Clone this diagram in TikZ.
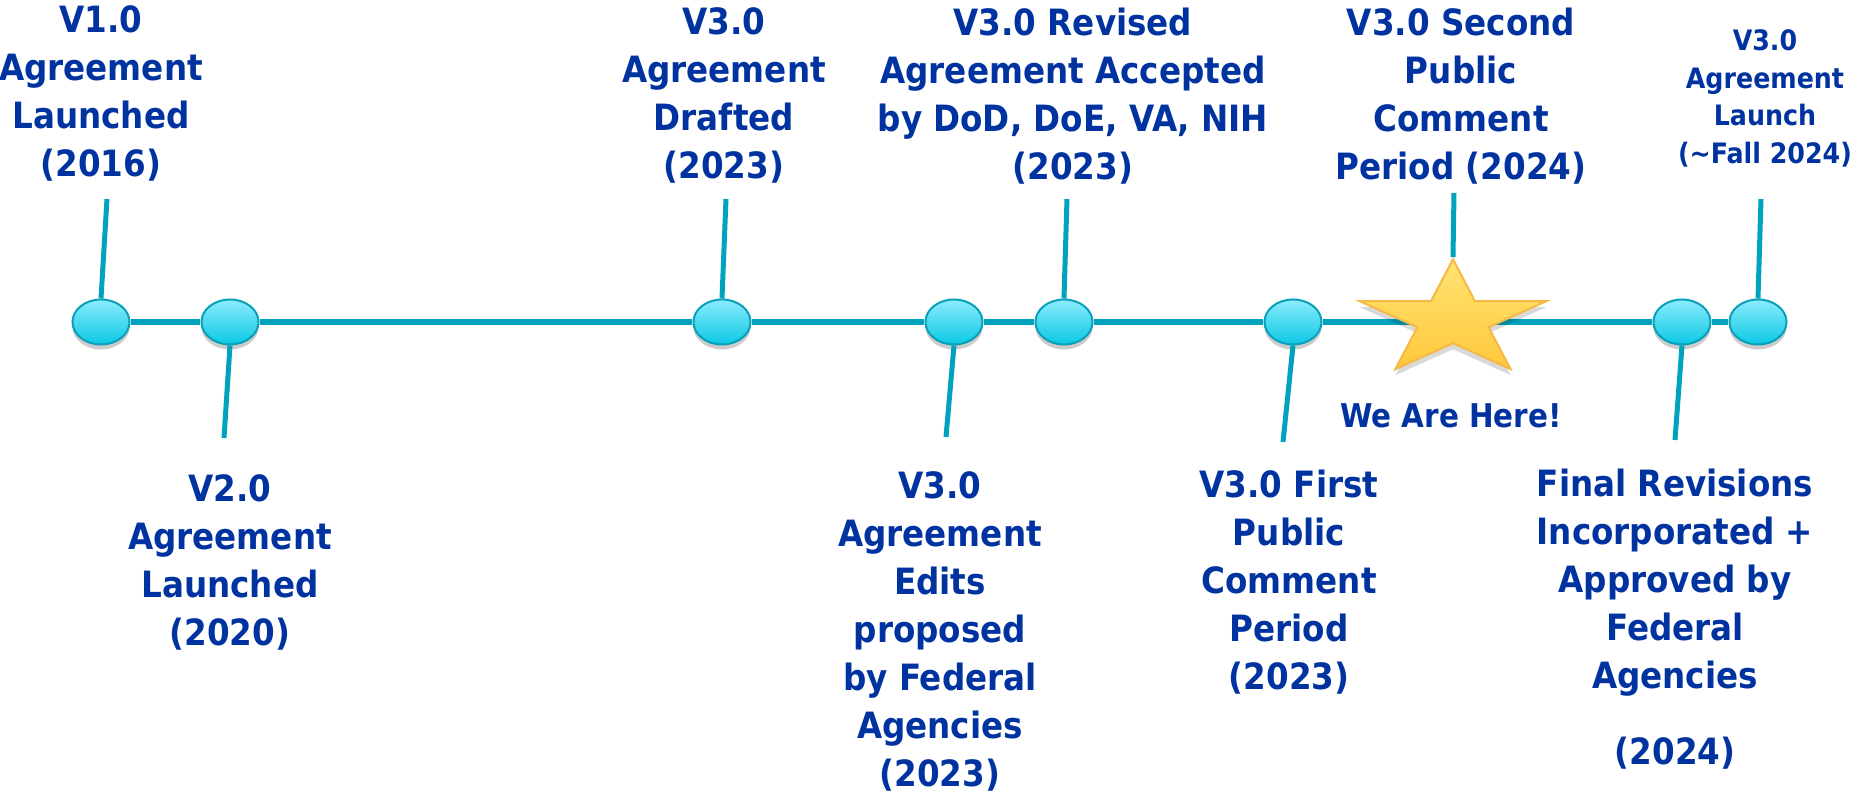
\documentclass[tikz,border=0pt]{standalone}
\usepackage{fontspec}
\setmainfont{DejaVu Sans Condensed}
\usetikzlibrary{shapes.geometric,shadows}
\definecolor{trunkcol}{RGB}{0,163,190}
\definecolor{ringcol}{RGB}{10,160,185}
\definecolor{capcol}{RGB}{140,236,252}
\definecolor{basecol}{RGB}{10,200,228}
\definecolor{txtblue}{RGB}{0,51,160}
\definecolor{startop}{RGB}{255,228,115}
\definecolor{starbot}{RGB}{255,200,60}
\definecolor{staredge}{RGB}{245,185,70}
\tikzset{
  mile/.style={ellipse,draw=ringcol,line width=0.2mm,top color=capcol,bottom color=basecol,
    minimum width=5.7mm,minimum height=4.5mm,inner sep=0pt,
    drop shadow={shadow xshift=0mm,shadow yshift=-0.5mm,opacity=0.2,fill=black}},
  trunk/.style={draw=trunkcol,line width=0.6mm},
  stem/.style={draw=trunkcol,line width=0.5mm},
  lbl/.style={text=txtblue,font={\bfseries\fontsize{10.3}{13.66}\selectfont},
    align=center,anchor=north,inner sep=0pt},
}
\begin{document}
\begin{tikzpicture}[x=0.01cm,y=-0.01cm]
  \useasboundingbox (0,0) rectangle (1865,792);
  % milestones on the time line
  \node[mile] (e1) at (101,322) {};
  \node[mile] (e2) at (230,322) {};
  \node[mile] (e3) at (722,322) {};
  \node[mile] (e4) at (954,322) {};
  \node[mile] (e5) at (1064,322) {};
  \node[mile] (e6) at (1293,322) {};
  \node[mile] (e7) at (1682,322) {};
  \node[mile] (e8) at (1758,322) {};
  \draw[trunk] (e1) -- (e2) -- (e3) -- (e4) -- (e5) -- (e6) -- (e7) -- (e8);
  % the star sits on top of the line
  \begin{scope}[shift={(1453,320)},yscale=0.62]
    \node[star,star points=5,star point ratio=2.618,minimum size=19.6mm,inner sep=0pt,
      draw=staredge,line width=0.2mm,top color=startop,bottom color=starbot,
      drop shadow={shadow xshift=0mm,shadow yshift=-0.6mm,opacity=0.15,fill=black},
      transform shape] (here) at (0,0) {};
  \end{scope}
  % stem ends
  \coordinate (c1) at (107,199);
  \coordinate (c2) at (224,438);
  \coordinate (c3) at (726,199);
  \coordinate (c4) at (946,437);
  \coordinate (c5) at (1067,199);
  \coordinate (c6) at (1283,442);
  \coordinate (c7) at (1454,193);
  \coordinate (c8) at (1675,440);
  \coordinate (c9) at (1761,199);
  \draw[stem] (e1.north) -- (c1);
  \draw[stem] (e2.south) -- (c2);
  \draw[stem] (e3.north) -- (c3);
  \draw[stem] (e4.south) -- (c4);
  \draw[stem] (e5.north) -- (c5);
  \draw[stem] (e6.south) -- (c6);
  \draw[stem] (here.north) -- (c7);
  \draw[stem] (e7.south) -- (c8);
  \draw[stem] (e8.north) -- (c9);
  % labels
  \node[lbl] (l1) at (101,5) {V1.0\\Agreement\\Launched\\(2016)};
  \node[lbl] (l2) at (230,474) {V2.0\\Agreement\\Launched\\(2020)};
  \node[lbl] (l3) at (724,7) {V3.0\\Agreement\\Drafted\\(2023)};
  \node[lbl] (l4) at (940,471) {V3.0\\Agreement\\Edits\\proposed\\by Federal\\Agencies\\(2023)};
  \node[lbl] (l5) at (1073,7) {V3.0 Revised\\Agreement Accepted\\by DoD, DoE, VA, NIH\\(2023)};
  \node[lbl] (l6) at (1289,469) {V3.0 First\\Public\\Comment\\Period\\(2023)};
  \node[lbl] (l7) at (1461,7) {V3.0 Second\\Public\\Comment\\Period (2024)};
  \node[lbl] (l8) at (1675,468) {Final Revisions\\Incorporated +\\Approved by\\Federal\\Agencies\\[8pt](2024)};
  \node[lbl,font={\bfseries\fontsize{8}{10.7}\selectfont}] (l9) at (1765,29)
    {V3.0\\Agreement\\Launch\\(\textasciitilde Fall 2024)};
  \node[text=txtblue,font={\bfseries\fontsize{9.3}{11}\selectfont},inner sep=0pt] (note)
    at (1451,416) {We Are Here!};
\end{tikzpicture}
\end{document}
